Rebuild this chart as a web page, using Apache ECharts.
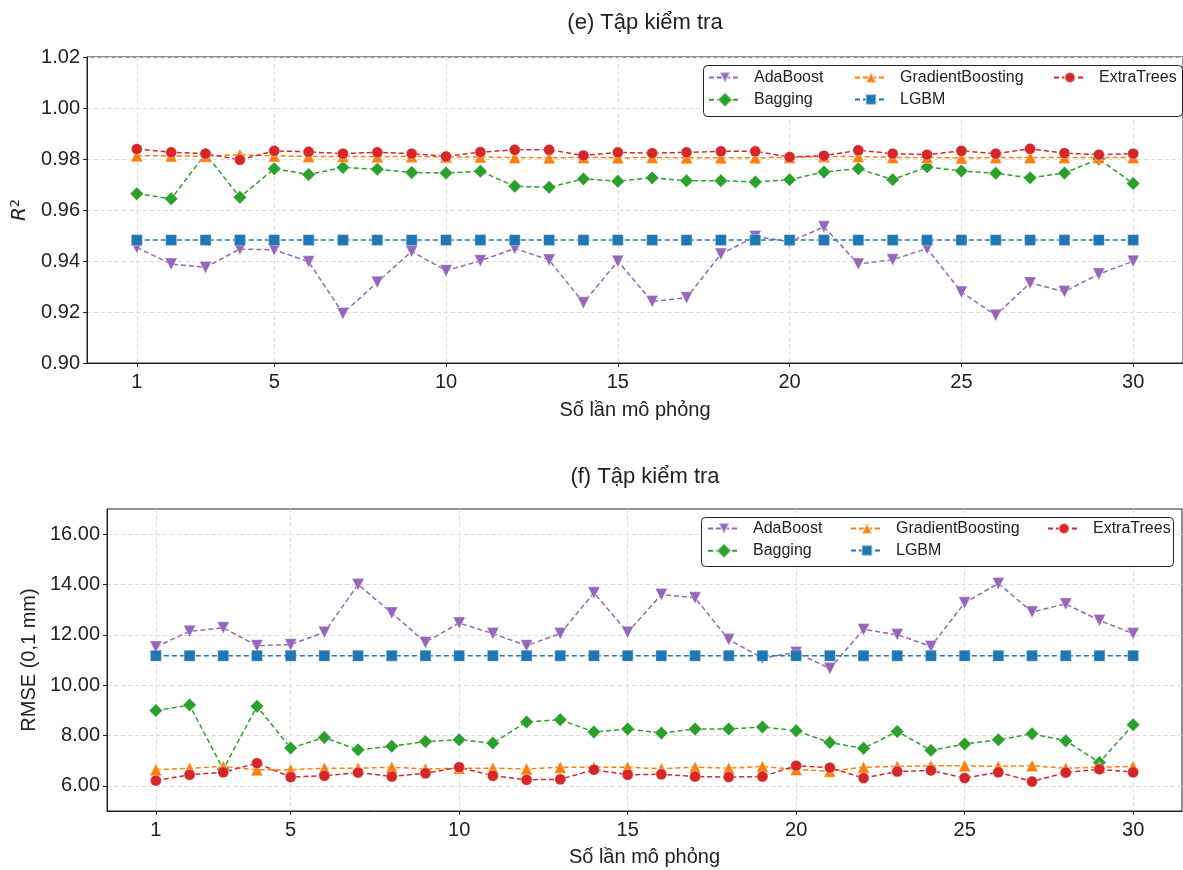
<!DOCTYPE html>
<html>
<head>
<meta charset="utf-8">
<title>Tập kiểm tra</title>
<script src="https://cdn.jsdelivr.net/npm/echarts@6/dist/echarts.min.js"></script>
<style>
    html, body { margin: 0; padding: 0; background: #fff; }
    #chart { width: 1183px; height: 870px; }
</style>
</head>
<body>
<div id="chart"></div>
<script>
// so lan mo phong
var runs = [1,2,3,4,5,6,7,8,9,10,11,12,13,14,15,16,17,18,19,20,21,22,23,24,25,26,27,28,29,30];
var xTicks = [1,5,10,15,20,25,30];
var models = ['AdaBoost','Bagging','GradientBoosting','LGBM','ExtraTrees'];

// (e) R2
var r2Ticks = [0.90,0.92,0.94,0.96,0.98,1.00,1.02];
var r2Ada = [0.9453,0.9388,0.9375,0.9447,0.9444,0.9397,0.9194,0.9317,0.9438,0.9362,0.9401,0.9449,0.9404,0.9236,0.9399,0.9241,0.9256,0.9427,0.9496,0.9475,0.9534,0.9388,0.9405,0.9449,0.9278,0.9187,0.9314,0.9280,0.9349,0.9399];
var r2Bag = [0.9664,0.9644,0.9820,0.9650,0.9762,0.9739,0.9767,0.9760,0.9747,0.9745,0.9752,0.9693,0.9689,0.9722,0.9713,0.9726,0.9715,0.9715,0.9710,0.9719,0.9749,0.9762,0.9719,0.9769,0.9753,0.9744,0.9726,0.9745,0.9800,0.9704];
var r2Gb = [0.9813,0.9812,0.9811,0.9817,0.9812,0.9810,0.9810,0.9809,0.9810,0.9808,0.9808,0.9806,0.9805,0.9806,0.9805,0.9806,0.9805,0.9805,0.9805,0.9806,0.9810,0.9810,0.9806,0.9806,0.9804,0.9806,0.9806,0.9806,0.9806,0.9806];
var r2Lgbm = [0.9482,0.9482,0.9482,0.9482,0.9482,0.9482,0.9482,0.9482,0.9482,0.9482,0.9482,0.9482,0.9482,0.9482,0.9482,0.9482,0.9482,0.9482,0.9482,0.9482,0.9482,0.9482,0.9482,0.9482,0.9482,0.9482,0.9482,0.9482,0.9482,0.9482];
var r2Et = [0.9839,0.9826,0.9821,0.9797,0.9832,0.9828,0.9821,0.9826,0.9821,0.9810,0.9827,0.9836,0.9836,0.9814,0.9826,0.9823,0.9826,0.9830,0.9830,0.9808,0.9813,0.9834,0.9821,0.9817,0.9832,0.9821,0.9840,0.9823,0.9817,0.9821];

// (f) RMSE (0,1 mm)
var rmseTicks = [6,8,10,12,14,16];
var rmseAda = [11.52,12.14,12.28,11.57,11.61,12.10,14.00,12.87,11.70,12.47,12.05,11.57,12.05,13.67,12.10,13.60,13.47,11.81,11.08,11.30,10.66,12.21,12.01,11.54,13.27,14.04,12.91,13.23,12.57,12.05];
var rmseBag = [8.99,9.21,6.66,9.16,7.50,7.92,7.43,7.57,7.76,7.83,7.70,8.54,8.63,8.14,8.26,8.10,8.26,8.26,8.34,8.19,7.72,7.49,8.16,7.41,7.66,7.83,8.07,7.79,6.93,8.43];
var rmseGb = [6.64,6.70,6.77,6.64,6.64,6.70,6.70,6.74,6.67,6.70,6.70,6.67,6.74,6.74,6.74,6.68,6.74,6.70,6.77,6.65,6.58,6.74,6.77,6.80,6.80,6.77,6.80,6.70,6.74,6.77];
var rmseLgbm = [11.17,11.17,11.17,11.17,11.17,11.17,11.17,11.17,11.17,11.17,11.17,11.17,11.17,11.17,11.17,11.17,11.17,11.17,11.17,11.17,11.17,11.17,11.17,11.17,11.17,11.17,11.17,11.17,11.17,11.17];
var rmseEt = [6.21,6.44,6.54,6.90,6.35,6.40,6.53,6.37,6.50,6.74,6.40,6.24,6.26,6.64,6.44,6.46,6.37,6.35,6.37,6.80,6.72,6.31,6.57,6.61,6.31,6.54,6.17,6.53,6.66,6.54];

var FONT = '"Liberation Sans", Arial, Helvetica, sans-serif';
var INK = '#222';

// mau va ky hieu kieu matplotlib
var styles = {
    AdaBoost:         { color: '#9467bd', symbol: 'triangle', size: 12, rotate: 180 },
    Bagging:          { color: '#2ca02c', symbol: 'rect',     size: 9.5, rotate: 45 },
    GradientBoosting: { color: '#ff7f0e', symbol: 'triangle', size: 12, rotate: 0 },
    LGBM:             { color: '#1f77b4', symbol: 'rect',     size: 11, rotate: 0 },
    ExtraTrees:       { color: '#d62728', symbol: 'circle',   size: 11, rotate: 0 }
};

function pairs(values) {
    return runs.map(function (r, i) { return [r, values[i]]; });
}

function makeSeries(name, values, idx) {
    var s = styles[name];
    return {
        name: name,
        type: 'line',
        xAxisIndex: idx,
        yAxisIndex: idx,
        data: pairs(values),
        symbol: s.symbol,
        symbolSize: s.size,
        symbolRotate: s.rotate,
        showAllSymbol: true,
        animation: false,
        color: s.color,
        lineStyle: { color: s.color, width: 1.5, type: [5, 3] },
        itemStyle: { color: s.color, borderColor: 'rgba(255,255,255,0.45)', borderWidth: 0.8 },
        emphasis: { disabled: true }
    };
}

function makeX(idx, gap) {
    return {
        type: 'value',
        gridIndex: idx,
        min: -0.45,
        max: 31.45,
        name: 'Số lần mô phỏng',
        nameLocation: 'middle',
        nameGap: gap,
        nameTextStyle: { fontFamily: FONT, fontSize: 20, color: INK },
        axisLine: { show: true, onZero: false, lineStyle: { color: INK, width: 1 } },
        axisTick: { show: true, length: 4, lineStyle: { color: INK }, customValues: xTicks },
        axisLabel: { customValues: xTicks, fontFamily: FONT, fontSize: 20, color: INK, margin: 9 },
        splitLine: { show: true, lineStyle: { color: '#dcdcdc', type: [4, 3], width: 1 } }
    };
}

function makeY(idx, min, max, ticks, name, gap) {
    return {
        type: 'value',
        gridIndex: idx,
        min: min,
        max: max,
        name: name,
        nameLocation: 'middle',
        nameGap: gap,
        nameRotate: 90,
        nameTextStyle: {
            fontFamily: FONT, fontSize: 20, color: INK,
            rich: {
                i: { fontFamily: '"DejaVu Sans", sans-serif', fontStyle: 'italic', fontSize: 20, color: INK },
                sup: { fontFamily: '"DejaVu Sans", sans-serif', fontSize: 13, color: INK, verticalAlign: 'top', padding: [0, 0, 10, 0] }
            }
        },
        axisLine: { show: true, onZero: false, lineStyle: { color: INK, width: 1 } },
        axisTick: { show: true, length: 4, lineStyle: { color: INK }, customValues: ticks },
        axisLabel: {
            customValues: ticks, fontFamily: FONT, fontSize: 20, color: INK, margin: 7,
            formatter: function (v) { return Number(v).toFixed(2); }
        },
        splitLine: { show: true, lineStyle: { color: '#dcdcdc', type: [4, 3], width: 1 } }
    };
}

function makeLegends(top, cols) {
    var groups = [['AdaBoost','Bagging'], ['GradientBoosting','LGBM'], ['ExtraTrees']];
    return groups.map(function (g, i) {
        return {
            data: g,
            orient: 'vertical',
            left: cols[i],
            top: top,
            padding: 0,
            itemGap: 5,
            itemWidth: 32,
            itemHeight: 13,
            z: 6,
            selectedMode: false,
            textStyle: { fontFamily: FONT, fontSize: 16, color: INK, lineHeight: 17, padding: [0, 0, 0, 8] }
        };
    });
}

var chart = echarts.init(document.getElementById('chart'), null, { renderer: 'canvas' });

var series = [];
series.push(makeSeries('AdaBoost', r2Ada, 0));
series.push(makeSeries('Bagging', r2Bag, 0));
series.push(makeSeries('GradientBoosting', r2Gb, 0));
series.push(makeSeries('LGBM', r2Lgbm, 0));
series.push(makeSeries('ExtraTrees', r2Et, 0));
series.push(makeSeries('AdaBoost', rmseAda, 1));
series.push(makeSeries('Bagging', rmseBag, 1));
series.push(makeSeries('GradientBoosting', rmseGb, 1));
series.push(makeSeries('LGBM', rmseLgbm, 1));
series.push(makeSeries('ExtraTrees', rmseEt, 1));

chart.setOption({
    backgroundColor: '#fff',
    animation: false,
    title: [
        { text: '(e) Tập kiểm tra', left: 645, textAlign: 'center', top: 12, padding: 0,
          textStyle: { fontFamily: FONT, fontSize: 22, fontWeight: 'normal', color: INK } },
        { text: '(f) Tập kiểm tra', left: 645, textAlign: 'center', top: 466, padding: 0,
          textStyle: { fontFamily: FONT, fontSize: 22, fontWeight: 'normal', color: INK } }
    ],
    grid: [
        { left: 87, right: -7, top: 57, height: 306, show: true, borderColor: INK, borderWidth: 1, backgroundColor: 'transparent' },
        { left: 107, right: 1, top: 509, height: 302, show: true, borderColor: INK, borderWidth: 1, backgroundColor: 'transparent' }
    ],
    xAxis: [makeX(0, 37), makeX(1, 36)],
    yAxis: [
        makeY(0, 0.90, 1.02, r2Ticks, '{i|R}{sup|2}', 50),
        makeY(1, 5, 17, rmseTicks, 'RMSE (0,1 mm)', 66)
    ],
    legend: makeLegends(69, [708, 854, 1053]).concat(makeLegends(520, [707, 850, 1047])),
    graphic: [
        { type: 'rect', z: 5, shape: { x: 703.5, y: 65.5, width: 479, height: 51, r: 4 },
          style: { fill: '#fff', stroke: INK, lineWidth: 1 } },
        { type: 'rect', z: 5, shape: { x: 701.5, y: 517.5, width: 472, height: 49, r: 4 },
          style: { fill: '#fff', stroke: INK, lineWidth: 1 } }
    ],
    series: series
});
</script>
</body>
</html>
